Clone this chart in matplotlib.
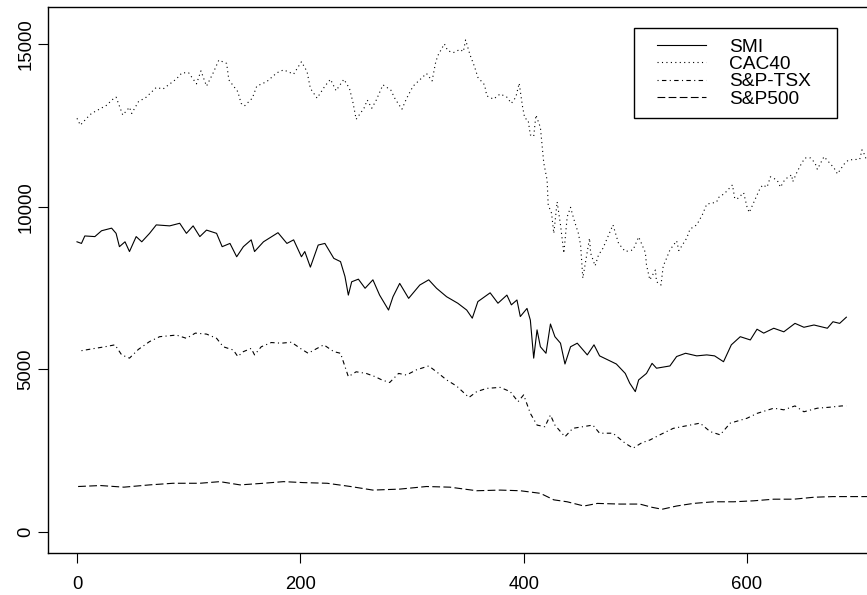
import matplotlib
matplotlib.use("Agg")
import matplotlib.pyplot as plt
from matplotlib.lines import Line2D
from matplotlib.legend_handler import HandlerLine2D

plt.rcParams['font.family'] = ['Liberation Sans', 'DejaVu Sans']

series_names = ["SMI", "CAC40", "S&P-TSX", "S&P500"]

smi = [(0, 8920), (4, 8870), (7, 9100), (16, 9080), (22, 9260), (31, 9340), (35, 9180),
       (38, 8770), (43, 8920), (47, 8620), (53, 9080), (58, 8920), (65, 9180), (71, 9440),
       (83, 9410), (92, 9490), (98, 9180), (104, 9410), (110, 9080), (116, 9280), (125, 9180),
       (130, 8770), (137, 8870), (143, 8460), (149, 8770), (156, 8980), (159, 8620), (167, 8920),
       (180, 9200), (188, 8870), (194, 8980), (201, 8460), (204, 8620), (209, 8140), (216, 8820),
       (222, 8870), (230, 8410), (236, 8310), (240, 7850), (243, 7280), (246, 7690), (252, 7770),
       (258, 7490), (265, 7750), (271, 7280), (279, 6820), (283, 7230), (289, 7640), (297, 7180),
       (307, 7590), (315, 7750), (322, 7490), (331, 7230), (341, 7030), (349, 6820), (354, 6570),
       (359, 7080), (370, 7350), (377, 7030), (385, 7280), (389, 6980), (394, 7130), (397, 6620),
       (403, 6870), (406, 6510), (409, 5340), (412, 6210), (415, 5690), (420, 5490), (424, 6390),
       (428, 6000), (433, 5800), (437, 5160), (442, 5690), (448, 5800), (457, 5440), (463, 5750),
       (468, 5410), (483, 5160), (491, 4870), (495, 4570), (500, 4310), (503, 4670), (510, 4870),
       (515, 5180), (519, 5030), (531, 5100), (537, 5390), (545, 5490), (555, 5410), (564, 5440),
       (571, 5410), (579, 5230), (586, 5750), (594, 6000), (603, 5900), (609, 6230), (615, 6110),
       (624, 6260), (633, 6150), (643, 6410), (651, 6290), (660, 6360), (672, 6260), (677, 6460),
       (683, 6410), (689, 6600)]

cac40 = [(0, 12720), (3, 12510), (10, 12770), (13, 12870), (27, 13130), (31, 13280), (35, 13370),
         (41, 12820), (47, 13060), (49, 12870), (55, 13230), (62, 13370), (71, 13670), (77, 13620),
         (89, 13930), (94, 14120), (100, 14120), (107, 13780), (111, 14180), (116, 13710),
         (122, 14120), (127, 14510), (134, 14410), (136, 13900), (144, 13540), (147, 13180),
         (150, 13100), (157, 13340), (161, 13710), (170, 13850), (179, 14120), (185, 14210),
         (194, 14080), (201, 14460), (206, 14160), (209, 13640), (215, 13340), (222, 13710),
         (227, 13920), (232, 13570), (239, 13920), (244, 13640), (247, 13230), (250, 12690),
         (257, 13030), (260, 13280), (264, 13030), (268, 13280), (274, 13750), (281, 13590),
         (285, 13310), (291, 13000), (295, 13320), (301, 13710), (313, 14100), (318, 13870),
         (321, 14410), (323, 14640), (329, 15010), (332, 14800), (337, 14740), (343, 14840),
         (346, 14770), (348, 15130), (352, 14670), (356, 14310), (359, 13980), (365, 13750),
         (367, 13410), (373, 13310), (379, 13470), (385, 13370), (389, 13180), (393, 13370),
         (396, 13800), (399, 13080), (401, 12720), (404, 12670), (406, 12210), (409, 12160),
         (411, 12820), (415, 12440), (417, 11690), (418, 11350), (421, 10820), (422, 10050),
         (425, 9800), (427, 9180), (430, 10150), (433, 9440), (436, 8570), (439, 9690),
         (442, 9980), (445, 9610), (449, 9180), (451, 8820), (453, 7800), (459, 9030),
         (460, 8570), (464, 8180), (467, 8510), (471, 8720), (480, 9440), (485, 8870),
         (491, 8620), (498, 8670), (503, 9070), (509, 8590), (510, 8210), (513, 7750),
         (518, 8050), (519, 7690), (523, 7590), (525, 8180), (527, 8330), (531, 8670),
         (537, 8950), (539, 8650), (546, 9030), (549, 9310), (555, 9440), (560, 9750),
         (564, 10080), (570, 10120), (573, 10150), (574, 10270), (580, 10410), (587, 10670),
         (589, 10260), (591, 10230), (597, 10430), (600, 10000), (602, 9820), (611, 10510),
         (614, 10670), (618, 10600), (621, 10920), (627, 10820), (630, 10600), (634, 10840),
         (640, 10980), (641, 10770), (645, 11080), (649, 11340), (652, 11500), (657, 11500),
         (661, 11340), (663, 11150), (669, 11540), (678, 11190), (681, 11010), (687, 11310),
         (691, 11440), (701, 11460), (703, 11750), (705, 11620), (707, 11440), (712, 11600)]

sptsx = [(4, 5570), (16, 5640), (25, 5690), (34, 5750), (40, 5440), (47, 5340), (55, 5610),
         (65, 5850), (74, 6000), (89, 6050), (98, 5950), (106, 6110), (116, 6080), (125, 5950),
         (131, 5690), (140, 5590), (144, 5390), (149, 5540), (156, 5640), (159, 5440), (165, 5690),
         (174, 5820), (183, 5800), (192, 5830), (200, 5640), (207, 5490), (215, 5640), (221, 5750),
         (230, 5540), (236, 5490), (240, 5080), (243, 4770), (250, 4920), (259, 4870), (267, 4770),
         (273, 4670), (280, 4590), (288, 4870), (295, 4820), (304, 4980), (315, 5100), (322, 4920),
         (331, 4670), (340, 4480), (351, 4130), (358, 4310), (367, 4410), (379, 4440), (388, 4310),
         (395, 4000), (400, 4210), (406, 3640), (412, 3280), (419, 3230), (424, 3590), (428, 3280),
         (437, 2920), (444, 3180), (453, 3230), (462, 3280), (468, 3030), (480, 3030), (491, 2720),
         (498, 2570), (506, 2740), (513, 2820), (522, 2980), (534, 3180), (549, 3280), (558, 3340),
         (567, 3080), (576, 2980), (585, 3340), (600, 3490), (609, 3640), (624, 3800), (633, 3750),
         (643, 3870), (651, 3690), (663, 3800), (674, 3830), (685, 3870), (689, 3870)]

sp500 = [(1, 1390), (21, 1420), (42, 1370), (65, 1440), (86, 1490), (110, 1490), (128, 1540),
         (146, 1440), (167, 1490), (185, 1540), (203, 1510), (224, 1490), (245, 1390), (265, 1280),
         (289, 1310), (313, 1390), (334, 1370), (358, 1260), (379, 1280), (397, 1260), (415, 1180),
         (427, 980), (439, 920), (454, 790), (466, 870), (486, 850), (504, 850), (515, 750),
         (524, 690), (537, 790), (552, 870), (570, 920), (588, 920), (606, 950), (624, 1000),
         (642, 1000), (660, 1060), (677, 1080), (692, 1080), (712, 1080)]

x_ticks = [0, 200, 400, 600]
y_ticks = [0, 5000, 10000, 15000]

W, H = 867, 595
fig = plt.figure(figsize=(W / 100, H / 100), dpi=100)
# axes box: left edge at 48px, top 7px, bottom 553px; right side runs past the figure edge
ax = fig.add_axes([48.3 / W, 1 - 553.3 / H, 855 / W, (553.3 - 6.7) / H])
ax.set_xlim(-25.7, 740)
ax.set_ylim(-665, 16154)

styles = ['-', (0, (1, 3)), (0, (1, 3, 4, 3)), (0, (7, 3))]
lw = 0.8
for name, data, ls in zip(series_names, [smi, cac40, sptsx, sp500], styles):
    xs = [p[0] for p in data]
    ys = [p[1] for p in data]
    ax.plot(xs, ys, color='black', linewidth=lw, linestyle=ls, label=name)

ax.set_xticks(x_ticks)
ax.set_yticks(y_ticks)
ax.set_xticklabels([str(v) for v in x_ticks])
ax.set_yticklabels([str(v) for v in y_ticks], rotation=90, va='center')
ax.tick_params(axis='both', direction='out', length=7.2, width=0.8, labelsize=13.3, colors='black')
ax.tick_params(axis='x', pad=9)
ax.tick_params(axis='y', pad=3)
for s in ax.spines.values():
    s.set_linewidth(1.0)
    s.set_color('black')

fs = 13.8
fspx = fs * 100 / 72
bp = 10.5 / fspx
xpad = (22.7 - 10.5) / fspx
handles = [Line2D([], [], color='black', linewidth=lw, linestyle=ls) for ls in styles]
leg = ax.legend(handles, series_names,
                loc='upper left',
                bbox_to_anchor=(634.3 / W, 1 - 27.7 / H, 203 / W, 0.0001),
                bbox_transform=fig.transFigure, mode='expand',
                borderaxespad=0, borderpad=bp, labelspacing=0.0,
                handlelength=(49 + 22.7 - 10.5) / fspx, handletextpad=23 / fspx,
                fancybox=False, framealpha=1, edgecolor='black', fontsize=fs,
                handler_map={Line2D: HandlerLine2D(xpad=xpad)})
leg.get_frame().set_linewidth(1.0)

fig.savefig('out.png', dpi=100)
